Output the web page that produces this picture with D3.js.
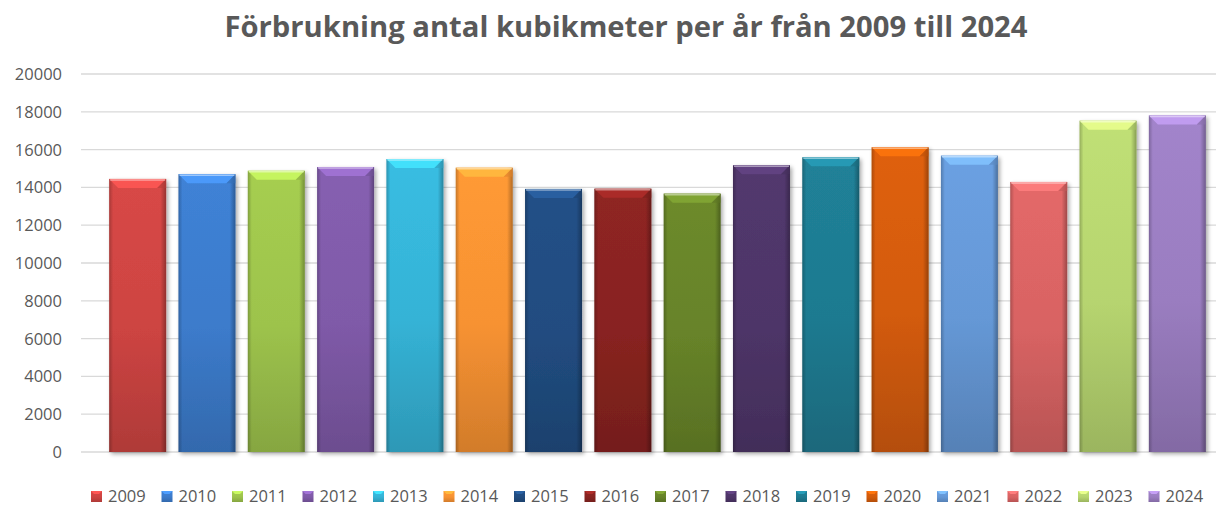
<!DOCTYPE html>
<html>
<head>
<meta charset="utf-8">
<script src="https://cdn.jsdelivr.net/npm/d3@7"></script>
<style>
  body { margin: 0; background: #fff; }
  svg { display: block; font-family: "Open Sans", sans-serif; }
</style>
</head>
<body>
<div id="chart"></div>
<script>
// data
const years = ['2009', '2010', '2011', '2012', '2013', '2014', '2015', '2016',
  '2017', '2018', '2019', '2020', '2021', '2022', '2023', '2024'];
const volumes = [14450, 14700, 14880, 15080, 15500, 15040, 13920, 13930,
  13670, 15170, 15590, 16120, 15680, 14290, 17530, 17810];
const barColors = ['#CD4442', '#3C7BCB', '#9DC34C', '#7F5AA8', '#35B3D6', '#F79232',
  '#214C80', '#882320', '#678329', '#4E3568', '#1E7A90', '#D35B0A',
  '#6598D6', '#D86363', '#B6D46F', '#9A7DC0'];
const yTicks = [0, 2000, 4000, 6000, 8000, 10000, 12000, 14000, 16000, 18000, 20000];
const title = 'Förbrukning antal kubikmeter per år från 2009 till 2024';

const data = years.map((y, i) => ({ year: y, value: volumes[i], color: barColors[i] }));

const width = 1216;
const height = 505;

const svg = d3.select('#chart').append('svg')
  .attr('width', width)
  .attr('height', height);

const defs = svg.append('defs');

const x = d3.scaleBand()
  .domain(years)
  .range([103, 1212])
  .paddingInner(0.178)
  .paddingOuter(0.089);

const y = d3.scaleLinear()
  .domain([0, 20000])
  .range([452, 74]);

// title
svg.append('text')
  .attr('x', 626)
  .attr('y', 37)
  .attr('text-anchor', 'middle')
  .attr('font-size', 28)
  .attr('font-weight', 'bold')
  .attr('fill', '#595959')
  .attr('textLength', 803)
  .attr('lengthAdjust', 'spacingAndGlyphs')
  .text(title);

// grid
svg.append('g')
  .selectAll('line')
  .data(yTicks)
  .join('line')
  .attr('x1', 81)
  .attr('x2', 1216)
  .attr('y1', (d) => y(d))
  .attr('y2', (d) => y(d))
  .attr('stroke', '#d9d9d9')
  .attr('stroke-width', 1.3);

// y axis labels
svg.append('g')
  .selectAll('text')
  .data(yTicks)
  .join('text')
  .attr('x', 62)
  .attr('y', (d) => y(d))
  .attr('dy', '0.36em')
  .attr('text-anchor', 'end')
  .attr('font-size', 16.5)
  .attr('fill', '#595959')
  .text((d) => d);

// shadow filter
const shadow = defs.append('filter')
  .attr('id', 'shadow')
  .attr('x', '-20%').attr('y', '-20%')
  .attr('width', '140%').attr('height', '140%');
shadow.append('feGaussianBlur').attr('in', 'SourceAlpha').attr('stdDeviation', 2);
shadow.append('feOffset').attr('dx', 2).attr('dy', 2).attr('result', 'off');
shadow.append('feComponentTransfer').append('feFuncA').attr('type', 'linear').attr('slope', 0.35);
const merge = shadow.append('feMerge');
merge.append('feMergeNode');
merge.append('feMergeNode').attr('in', 'SourceGraphic');

// gradients per bar
data.forEach((d, i) => {
  const g = defs.append('linearGradient')
    .attr('id', `grad${i}`)
    .attr('x1', 0).attr('y1', 0).attr('x2', 0).attr('y2', 1);
  g.append('stop').attr('offset', '0%').attr('stop-color', d3.color(d.color).brighter(0.15));
  g.append('stop').attr('offset', '55%').attr('stop-color', d.color);
  g.append('stop').attr('offset', '100%').attr('stop-color', d3.color(d.color).darker(0.45));
});

const sideGrad = defs.append('linearGradient')
  .attr('id', 'side')
  .attr('x1', 0).attr('y1', 0).attr('x2', 1).attr('y2', 0);
sideGrad.append('stop').attr('offset', '0%').attr('stop-color', '#000').attr('stop-opacity', 0.22);
sideGrad.append('stop').attr('offset', '7%').attr('stop-color', '#000').attr('stop-opacity', 0);
sideGrad.append('stop').attr('offset', '90%').attr('stop-color', '#000').attr('stop-opacity', 0);
sideGrad.append('stop').attr('offset', '100%').attr('stop-color', '#000').attr('stop-opacity', 0.3);

const bars = svg.append('g')
  .selectAll('g')
  .data(data)
  .join('g');

bars.append('rect')
  .attr('x', (d) => x(d.year))
  .attr('y', (d) => y(d.value))
  .attr('width', x.bandwidth())
  .attr('height', (d) => y(0) - y(d.value))
  .attr('fill', (d, i) => `url(#grad${i})`)
  .attr('filter', 'url(#shadow)');

bars.append('rect')
  .attr('x', (d) => x(d.year))
  .attr('y', (d) => y(d.value))
  .attr('width', x.bandwidth())
  .attr('height', (d) => y(0) - y(d.value))
  .attr('fill', 'url(#side)');

// top bevel
const bev = 9;
bars.append('path')
  .attr('d', (d) => {
    const x0 = x(d.year);
    const x1 = x0 + x.bandwidth();
    const y0 = y(d.value);
    return `M${x0},${y0}L${x1},${y0}L${x1 - bev},${y0 + bev}L${x0 + bev},${y0 + bev}Z`;
  })
  .attr('fill', (d) => d3.color(d.color).brighter(0.7))
  .attr('opacity', 0.85);

bars.append('path')
  .attr('d', (d) => {
    const x0 = x(d.year);
    const x1 = x0 + x.bandwidth();
    const y0 = y(d.value);
    return `M${x1},${y0}L${x1 - bev},${y0 + bev}L${x1},${y0 + bev}Z`;
  })
  .attr('fill', (d) => d3.color(d.color).darker(0.3))
  .attr('opacity', 0.6);

bars.append('line')
  .attr('x1', (d) => x(d.year) + 1)
  .attr('x2', (d) => x(d.year) + x.bandwidth() - 1)
  .attr('y1', (d) => y(d.value) + 1)
  .attr('y2', (d) => y(d.value) + 1)
  .attr('stroke', '#fff')
  .attr('stroke-opacity', 0.45)
  .attr('stroke-width', 1.5);

// legend
const legend = svg.append('g')
  .selectAll('g')
  .data(data)
  .join('g')
  .attr('transform', (d, i) => `translate(${91 + i * 70.5},491)`);

legend.append('rect')
  .attr('width', 11)
  .attr('height', 11)
  .attr('fill', (d, i) => `url(#grad${i})`);

legend.append('path')
  .attr('d', 'M0,0L11,0L8,3L3,3Z')
  .attr('fill', (d) => d3.color(d.color).brighter(0.7));

legend.append('text')
  .attr('x', 17)
  .attr('y', 10.5)
  .attr('font-size', 16.5)
  .attr('fill', '#595959')
  .text((d) => d.year);
</script>
</body>
</html>
